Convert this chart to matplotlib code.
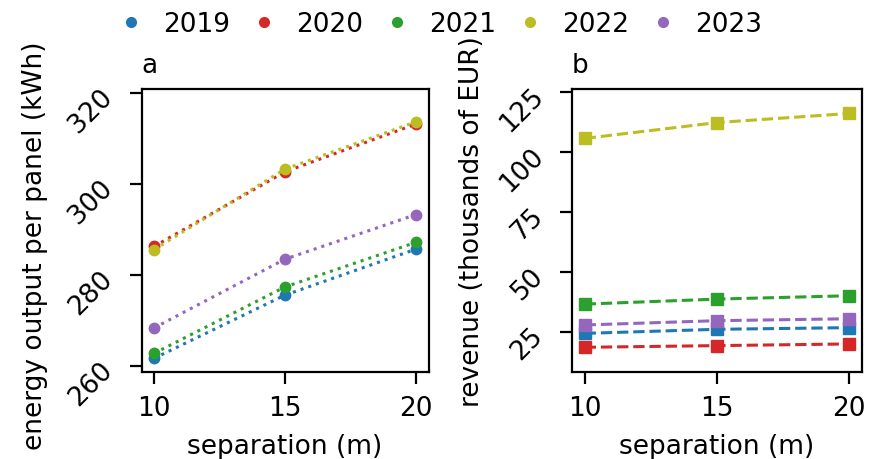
import matplotlib
matplotlib.use("Agg")
import matplotlib.pyplot as plt
from matplotlib.lines import Line2D

separation = [10, 15, 20]
years = ["2019", "2020", "2021", "2022", "2023"]
colors = ["tab:blue", "tab:red", "tab:green", "tab:olive", "tab:purple"]

energy_2019 = [261.6, 275.5, 285.6]
energy_2020 = [286.2, 302.6, 313.1]
energy_2021 = [262.7, 277.3, 287.1]
energy_2022 = [285.5, 303.2, 313.6]
energy_2023 = [268.3, 283.4, 293.2]

revenue_2019 = [24.3, 26.0, 26.7]
revenue_2020 = [18.5, 19.2, 19.9]
revenue_2021 = [36.5, 38.6, 40.0]
revenue_2022 = [105.6, 112.2, 116.0]
revenue_2023 = [27.8, 29.6, 30.4]

energy = [energy_2019, energy_2020, energy_2021, energy_2022, energy_2023]
revenue = [revenue_2019, revenue_2020, revenue_2021, revenue_2022, revenue_2023]

plt.rcParams["font.family"] = ["DejaVu Sans"]
fs = 19

fig = plt.figure(figsize=(8.77, 4.6), dpi=100)
ax_a = fig.add_axes([141.5 / 877, 1 - 373 / 460, 287 / 877, 283 / 460])
ax_b = fig.add_axes([572 / 877, 1 - 373 / 460, 290 / 877, 283 / 460])

for vals, c in zip(energy, colors):
    ax_a.plot(separation, vals, linestyle=":", marker="o", color=c,
              markersize=7.5, linewidth=2.2)
for vals, c in zip(revenue, colors):
    ax_b.plot(separation, vals, linestyle="--", marker="s", color=c,
              markersize=8, linewidth=2.2)

ax_a.set_ylim(258.6, 320.8)
ax_a.set_yticks([260, 280, 300, 320])
ax_b.set_ylim(8.2, 126.2)
ax_b.set_yticks([25, 50, 75, 100, 125])

for ax in (ax_a, ax_b):
    ax.set_xlim(9.52, 20.48)
    ax.set_xticks([10, 15, 20])
    ax.tick_params(labelsize=fs, width=1.6, length=8.5)
    ax.tick_params(axis="x", pad=8)
    ax.tick_params(axis="y", pad=15)
    for lab in ax.get_yticklabels():
        lab.set_rotation(45)
        lab.set_rotation_mode("anchor")
        lab.set_ha("right")
        lab.set_va("center")
    ax.set_xlabel("separation (m)", fontsize=fs, labelpad=8.5)
    for s in ax.spines.values():
        s.set_linewidth(1.6)

ax_a.set_ylabel("energy output per panel (kWh)", fontsize=fs)
ax_b.set_ylabel("revenue (thousands of EUR)", fontsize=fs)
ax_a.yaxis.set_label_coords(-0.326, 0.45)
ax_b.yaxis.set_label_coords(-0.30, 0.534)
ax_a.set_title("a", loc="left", fontsize=fs, pad=12)
ax_b.set_title("b", loc="left", fontsize=fs, pad=12)

handles = [Line2D([], [], linestyle="none", marker="o", color=c, markersize=7)
           for c in colors]
fig.legend(handles, years, loc="upper center", bbox_to_anchor=(0.497, 1.025),
           ncol=5, frameon=False, fontsize=fs, handletextpad=0.4,
           columnspacing=0.5, handlelength=1.6)

fig.savefig("out.png", dpi=100)
